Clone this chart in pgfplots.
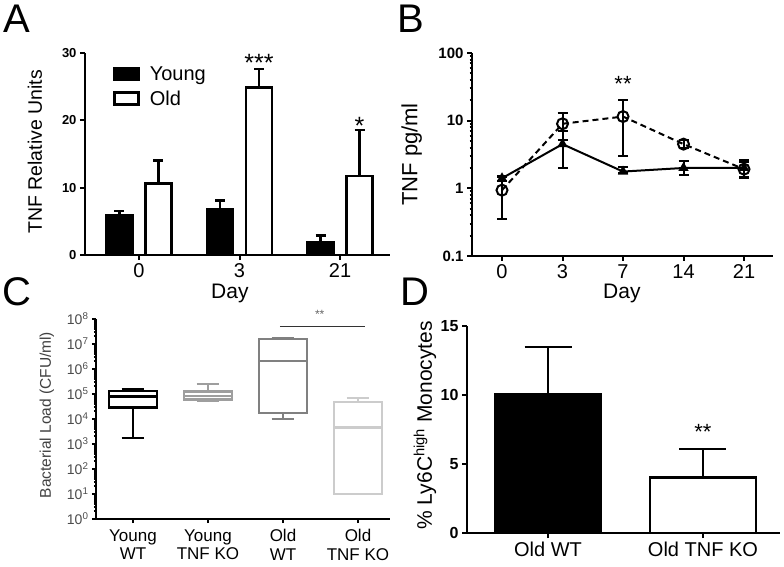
\documentclass[border=0pt]{standalone}
\usepackage{fontspec}
\setmainfont{Liberation Sans}
\usepackage{pgfplots}
\pgfplotsset{compat=1.18}
\usepgfplotslibrary{statistics}

\newcommand\fs[1]{\fontsize{#1}{#1}\selectfont}

\pgfplotsset{
  panel/.style={
    scale only axis,
    axis lines=left,
    axis line style={-, line width=2pt},
    tick align=outside,
    major tick length=5pt,
    minor tick length=2.5pt,
    tick style={line width=2pt, black},
    /pgf/number format/assume math mode=true,
    clip=false,
  },
  boxlegend/.style={legend image code/.code={\draw[##1,line width=2.5pt] (0pt,-6pt) rectangle (24pt,6pt); \path (32pt,0pt);}},
}

\begin{document}
\begin{tikzpicture}
\useasboundingbox (0,0) rectangle (784pt,566pt);

% panel letters
\node[font=\fs{40}] at (17pt,547pt) {A};
\node[font=\fs{40}] at (411pt,547pt) {B};
\node[font=\fs{40}] at (17pt,274pt) {C};
\node[font=\fs{40}] at (415pt,274pt) {D};

% ---------- A ----------
\begin{axis}[panel, at={(85pt,311pt)}, anchor=south west,
  width=305pt, height=202pt,
  xmin=-0.537, xmax=2.497, ymin=0, ymax=30,
  ytick={0,10,20,30}, xtick={0,1,2}, xticklabels={0,3,21},
  yticklabel style={font=\fs{13}\bfseries},
  xticklabel style={font=\fs{20}},
  ylabel={TNF Relative Units}, xlabel={Day},
  every axis y label/.style={at={(axis description cs:-0.164,0.51)}, rotate=90, anchor=center, font=\fs{19.5}},
  every axis x label/.style={at={(axis description cs:0.475,-0.19)}, anchor=center, font=\fs{21}},
  ybar, bar width=26pt,
  legend style={at={(axis description cs:0.092,0.945)}, anchor=north west, draw=none, fill=none,
    font=\fs{20}, row sep=5pt, inner sep=0pt},
  legend cell align=left,
]
\addplot[fill=black, draw=black, line width=2.5pt, bar shift=-19.5pt, boxlegend,
  error bars/.cd, y dir=plus, y explicit,
  error bar style={line width=2.5pt},
  error mark options={rotate=90, mark size=5pt, line width=2.5pt}]
  coordinates {(0,5.9) +- (0,0.6) (1,6.8) +- (0,1.3) (2,1.9) +- (0,1.0)};
\addplot[fill=white, draw=black, line width=2.5pt, bar shift=19.5pt, boxlegend,
  error bars/.cd, y dir=plus, y explicit,
  error bar style={line width=2.5pt},
  error mark options={rotate=90, mark size=5pt, line width=2.5pt}]
  coordinates {(0,10.6) +- (0,3.4) (1,24.9) +- (0,2.7) (2,11.7) +- (0,6.9)};
\legend{Young, Old}
\node[font=\fs{25}] at (axis cs:1,28.6) [xshift=19.5pt] {***};
\node[font=\fs{25}] at (axis cs:2,19.2) [xshift=19.5pt] {*};
\end{axis}

% ---------- B ----------
\begin{axis}[panel, at={(472pt,310pt)}, anchor=south west,
  width=301pt, height=203pt,
  xmin=-0.496, xmax=4.479, ymode=log, ymin=0.1, ymax=100,
  ytick={0.1,1,10,100}, yticklabels={0.1,1,10,100},
  minor ytick={0.2,0.3,0.4,0.5,0.6,0.7,0.8,0.9,2,3,4,5,6,7,8,9,20,30,40,50,60,70,80,90},
  xtick={0,1,2,3,4}, xticklabels={0,3,7,14,21},
  yticklabel style={font=\fs{15}\bfseries},
  xticklabel style={font=\fs{20}},
  ylabel={TNF pg/ml}, xlabel={Day},
  every axis y label/.style={at={(axis description cs:-0.2,0.5)}, rotate=90, anchor=center, font=\fs{22}},
  every axis x label/.style={at={(axis description cs:0.498,-0.185)}, anchor=center, font=\fs{21}},
]
\addplot[black, line width=2pt, mark=triangle*, mark size=4pt, mark options={solid},
  error bars/.cd, y dir=both, y explicit,
  error bar style={line width=2pt, solid},
  error mark options={rotate=90, mark size=5pt, line width=2pt, solid}]
  coordinates {(0,1.41) += (0,0.12) -= (0,0.12)
               (1,4.5) += (0,2.5) -= (0,2.5)
               (2,1.77) += (0,0.3) -= (0,0.1)
               (3,2.0) += (0,0.5) -= (0,0.4)
               (4,2.0) += (0,0.6) -= (0,0.55)};
\addplot[black, line width=2pt, dash pattern=on 6pt off 4pt, mark=o, mark size=5.5pt,
  mark options={solid, fill=white},
  error bars/.cd, y dir=both, y explicit,
  error bar style={line width=2pt, solid},
  error mark options={rotate=90, mark size=5pt, line width=2pt, solid}]
  coordinates {(0,0.94) += (0,0.55) -= (0,0.59)
               (1,9.0) += (0,3.8) -= (0,3.8)
               (2,11.5) += (0,8.9) -= (0,8.45)
               (3,4.5) += (0,0.6) -= (0,0.6)
               (4,1.92) += (0,0.5) -= (0,0.5)};
\node[font=\fs{22}] at (axis cs:2,35) {**};
\end{axis}

% ---------- C ----------
\begin{axis}[panel, at={(96pt,47pt)}, anchor=south west,
  width=294pt, height=200pt,
  xmin=-0.493, xmax=3.427, ymode=log, ymin=1, ymax=1e8,
  ytick={1,10,100,1000,1e4,1e5,1e6,1e7,1e8},
  yticklabels={10\textsuperscript{0},10\textsuperscript{1},10\textsuperscript{2},10\textsuperscript{3},10\textsuperscript{4},10\textsuperscript{5},10\textsuperscript{6},10\textsuperscript{7},10\textsuperscript{8}},
  minor ytick={2,3,4,5,6,7,8,9,20,30,40,50,60,70,80,90,200,300,400,500,600,700,800,900,
    2e3,3e3,4e3,5e3,6e3,7e3,8e3,9e3,2e4,3e4,4e4,5e4,6e4,7e4,8e4,9e4,
    2e5,3e5,4e5,5e5,6e5,7e5,8e5,9e5,2e6,3e6,4e6,5e6,6e6,7e6,8e6,9e6,
    2e7,3e7,4e7,5e7,6e7,7e7,8e7,9e7},
  major tick length=4pt, minor tick length=2pt,
  xtick={0,1,2,3},
  xticklabels={{Young\\WT},{Young\\TNF KO},{Old\\WT},{Old\\TNF KO}},
  yticklabel style={font=\fs{14}, text=black!70},
  xticklabel style={font=\fontsize{17}{18.5}\selectfont, align=center, yshift=-3pt},
  ylabel={Bacterial Load (CFU/ml)},
  every axis y label/.style={at={(axis description cs:-0.167,0.52)}, rotate=90, anchor=center, font=\fs{15.5}, text=black!75},
  boxplot/draw direction=y,
]
\addplot[draw=black, line width=2.5pt, solid, mark=none,
  boxplot prepared={draw position=0, lower whisker=1700, lower quartile=29000,
    median=80000, upper quartile=130000, upper whisker=150000,
    box extend=0.64, whisker extend=0.3}] coordinates {};
\addplot[draw=black!38, line width=2.5pt, solid, mark=none,
  boxplot prepared={draw position=1, lower whisker=54000, lower quartile=59000,
    median=85000, upper quartile=125000, upper whisker=250000,
    box extend=0.64, whisker extend=0.3}] coordinates {};
\addplot[draw=black!50, line width=2.5pt, solid, mark=none,
  boxplot prepared={draw position=2, lower whisker=10000, lower quartile=17000,
    median=2100000, upper quartile=16000000, upper whisker=17000000,
    box extend=0.64, whisker extend=0.3}] coordinates {};
\addplot[draw=black!20, line width=2.5pt, solid, mark=none,
  boxplot prepared={draw position=3, lower whisker=10, lower quartile=10,
    median=4600, upper quartile=48000, upper whisker=69000,
    box extend=0.64, whisker extend=0.3}] coordinates {};
\draw[line width=1pt, black!80] (axis cs:1.96,5.2e7) -- (axis cs:3.09,5.2e7);
\node[font=\fs{12}, text=black!60] at (axis cs:2.49,1.5e8) {**};
\end{axis}

% ---------- D ----------
\begin{axis}[panel, at={(467pt,33pt)}, anchor=south west,
  width=313pt, height=207pt,
  xmin=-0.523, xmax=1.497, ymin=0, ymax=15,
  ytick={0,5,10,15}, xtick={0,1}, xticklabels={Old WT, Old TNF KO},
  yticklabel style={font=\fs{16}\bfseries},
  xticklabel style={font=\fs{20}},
  ylabel={\% Ly6C\textsuperscript{high} Monocytes},
  every axis y label/.style={at={(axis description cs:-0.134,0.52)}, rotate=90, anchor=center, font=\fs{21}},
  ybar, bar width=106pt,
]
\addplot[fill=black, draw=black, line width=2.5pt, bar shift=0pt,
  error bars/.cd, y dir=plus, y explicit,
  error bar style={line width=2.5pt},
  error mark options={rotate=90, mark size=23.5pt, line width=2.5pt}]
  coordinates {(0,10.09) +- (0,3.4)};
\addplot[fill=white, draw=black, line width=2.5pt, bar shift=0pt,
  error bars/.cd, y dir=plus, y explicit,
  error bar style={line width=2.5pt},
  error mark options={rotate=90, mark size=23.5pt, line width=2.5pt}]
  coordinates {(1,4.02) +- (0,2.05)};
\node[font=\fs{22}] at (axis cs:1,7.3) {**};
\end{axis}
\end{tikzpicture}
\end{document}
